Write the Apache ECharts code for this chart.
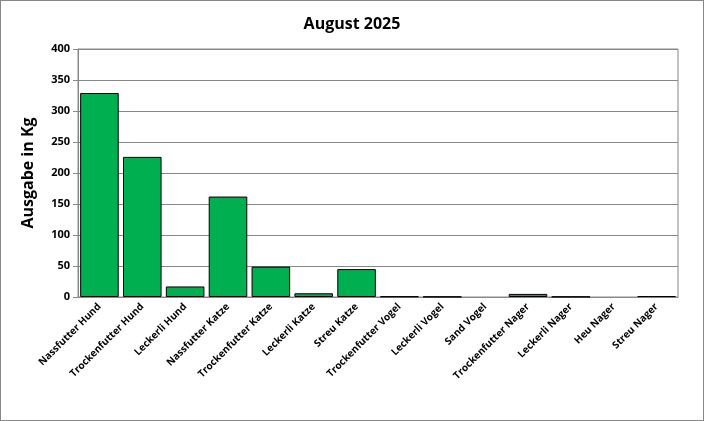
<!DOCTYPE html><html><head><meta charset="utf-8"><script src="https://cdn.jsdelivr.net/npm/echarts@6/dist/echarts.min.js"></script>
<style>html,body{margin:0;padding:0;background:#fff}#c{width:704px;height:421px;box-sizing:border-box;border:1px solid #888}</style></head><body><div id="c"></div><script>
const categories=["Nassfutter Hund","Trockenfutter Hund","Leckerli Hund","Nassfutter Katze","Trockenfutter Katze","Leckerli Katze","Streu Katze","Trockenfutter Vogel","Leckerli Vogel","Sand Vogel","Trockenfutter Nager","Leckerli Nager","Heu Nager","Streu Nager"];
const values=[329,226,17,162,49,6,45,1,0.5,0,5,0.5,0,1.5];
const ch=echarts.init(document.getElementById('c'));
ch.setOption({animation:false,
title:{text:'August 2025',left:'center',top:10,textStyle:{fontFamily:'Open Sans',fontWeight:'bold',fontSize:16,color:'#000'}},
grid:{left:77,right:25,top:48,bottom:123,show:true,borderColor:'#888',borderWidth:1},
xAxis:{type:'category',data:categories,axisLine:{lineStyle:{color:'#888'}},axisTick:{lineStyle:{color:'#888'}},
axisLabel:{rotate:45,interval:0,color:'#000',fontFamily:'Open Sans',fontWeight:'bold',fontSize:10}},
yAxis:{type:'value',min:0,max:400,interval:50,name:'Ausgabe in Kg',nameLocation:'middle',nameGap:42,
nameTextStyle:{fontFamily:'Open Sans',fontWeight:'bold',fontSize:16,color:'#000'},
axisLine:{show:true,lineStyle:{color:'#888'}},axisTick:{show:true,lineStyle:{color:'#888'}},
axisLabel:{color:'#000',fontFamily:'Open Sans',fontWeight:'bold',fontSize:11},
splitLine:{lineStyle:{color:'#888'}}},
series:[{type:'bar',data:values.map(v=>v===0?null:v),barCategoryGap:'10%',itemStyle:{color:'#00b050',borderColor:'#000',borderWidth:1}}]});
</script></body></html>
